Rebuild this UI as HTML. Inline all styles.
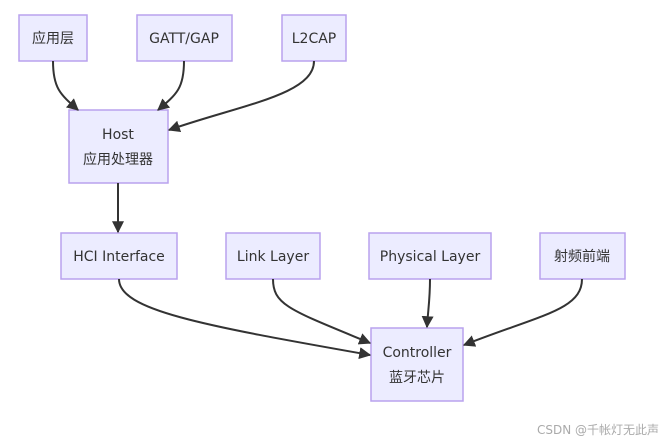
<!DOCTYPE html>
<html><head><meta charset="utf-8"><style>
html,body{margin:0;padding:0;background:#fff;width:667px;height:443px;overflow:hidden}
svg text{font-family:"DejaVu Sans","Noto Sans CJK SC",sans-serif;font-size:14px;fill:#333;text-anchor:middle}
rect{fill:#ECECFF;stroke:#B9A2EE;stroke-width:1.5}
path.e{fill:none;stroke:#333;stroke-width:2}
</style></head><body>
<svg width="667" height="443" xmlns="http://www.w3.org/2000/svg">
<defs><marker id="a" viewBox="0 0 10 10" refX="9" refY="5" markerWidth="12" markerHeight="12" markerUnits="userSpaceOnUse" orient="auto"><path d="M0,0L10,5L0,10z" fill="#333"/></marker></defs>
<rect x="19" y="15" width="68" height="46"/><text x="53" y="43">应用层</text>
<rect x="137" y="15" width="95" height="46"/><text x="184" y="43">GATT/GAP</text>
<rect x="282" y="15" width="64" height="46"/><text x="314" y="43">L2CAP</text>
<rect x="69" y="110" width="99" height="73"/><text x="118" y="139">Host</text><text x="118" y="164">应用处理器</text>
<rect x="61" y="233" width="116" height="46"/><text x="119" y="261">HCI Interface</text>
<rect x="226" y="233" width="94" height="46"/><text x="273" y="261">Link Layer</text>
<rect x="369" y="233" width="122" height="46"/><text x="430" y="261">Physical Layer</text>
<rect x="540" y="233" width="85" height="46"/><text x="582" y="261">射频前端</text>
<rect x="371" y="328" width="92" height="73"/><text x="417" y="357">Controller</text><text x="417" y="382">蓝牙芯片</text>
<path class="e" d="M53,61 C53,88 60,94 78,110" marker-end="url(#a)"/>
<path class="e" d="M184,61 C184,88 177,94 158,110" marker-end="url(#a)"/>
<path class="e" d="M314,61 C314,95 240,105 169,130" marker-end="url(#a)"/>
<path class="e" d="M118,183 L118,232" marker-end="url(#a)"/>
<path class="e" d="M119,279 C119,310 200,325 370,355" marker-end="url(#a)"/>
<path class="e" d="M273,279 C273,305 290,310 370,343" marker-end="url(#a)"/>
<path class="e" d="M430,279 C430,300 428,310 427,327" marker-end="url(#a)"/>
<path class="e" d="M582,279 C582,310 540,315 464,345" marker-end="url(#a)"/>
<text x="598" y="434" style="font-size:12px;fill:#aaa">CSDN @千帐灯无此声</text>
</svg>
</body></html>
